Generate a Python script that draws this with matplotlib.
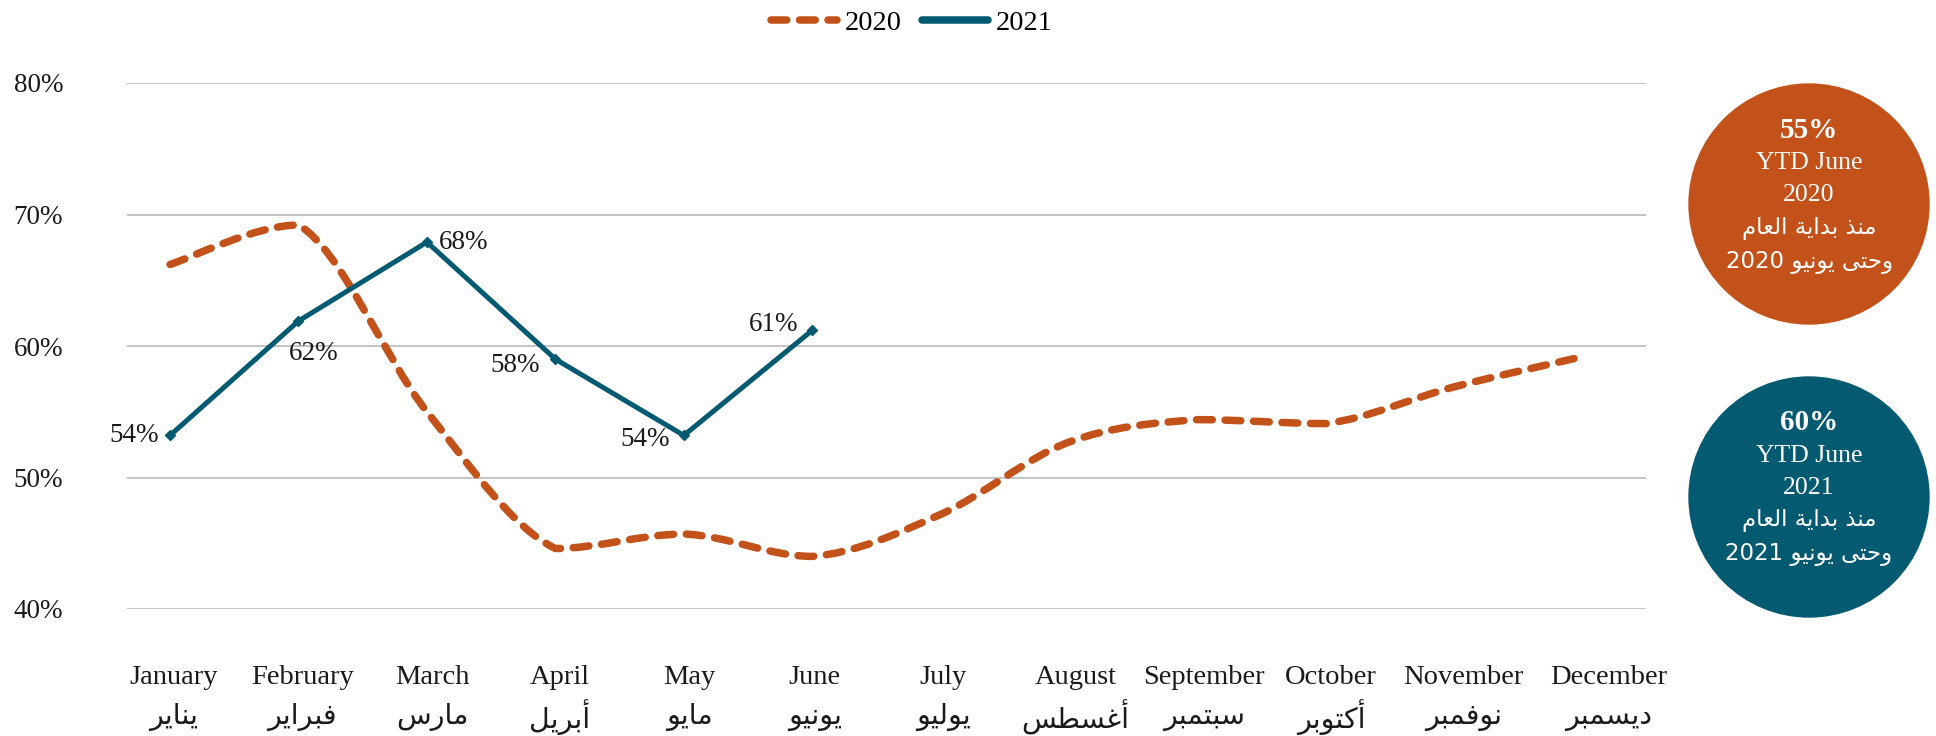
import numpy as np
import matplotlib
matplotlib.use('Agg')
import matplotlib.pyplot as plt
from matplotlib.path import Path
from matplotlib.patches import PathPatch, Circle
from matplotlib.lines import Line2D

months_en = ['January', 'February', 'March', 'April', 'May', 'June', 'July',
             'August', 'September', 'October', 'November', 'December']
months_ar = ['يناير', 'فبراير', 'مارس', 'أبريل', 'مايو', 'يونيو', 'يوليو',
             'أغسطس', 'سبتمبر', 'أكتوبر', 'نوفمبر', 'ديسمبر']
rate_2020 = [66.2, 69.2, 55.0, 44.6, 45.7, 44.0, 47.2, 52.7, 54.4, 54.1, 56.9, 59.2]
rate_2021 = [53.2, 61.9, 67.9, 59.0, 53.2, 61.2]
labels_2021 = ['54%', '62%', '68%', '58%', '54%', '61%']
yticks = [40, 50, 60, 70, 80]
ytd = [('55%', '2020'), ('60%', '2021')]

orange = '#C25219'
blue = '#045A70'
ink = '#1a1a1a'
serif = ['Liberation Serif', 'DejaVu Sans']
sans = ['DejaVu Sans']

plt.rcParams['font.family'] = serif

# --- tiny arabic shaper (presentation forms + visual order) ---
FORMS = {
    'ا': ('\uFE8D', '\uFE8E', None, None), 'أ': ('\uFE83', '\uFE84', None, None),
    'ب': ('\uFE8F', '\uFE90', '\uFE91', '\uFE92'), 'ة': ('\uFE93', '\uFE94', None, None),
    'ت': ('\uFE95', '\uFE96', '\uFE97', '\uFE98'), 'ح': ('\uFEA1', '\uFEA2', '\uFEA3', '\uFEA4'),
    'د': ('\uFEA9', '\uFEAA', None, None), 'ذ': ('\uFEAB', '\uFEAC', None, None),
    'ر': ('\uFEAD', '\uFEAE', None, None), 'س': ('\uFEB1', '\uFEB2', '\uFEB3', '\uFEB4'),
    'ط': ('\uFEC1', '\uFEC2', '\uFEC3', '\uFEC4'), 'ع': ('\uFEC9', '\uFECA', '\uFECB', '\uFECC'),
    'غ': ('\uFECD', '\uFECE', '\uFECF', '\uFED0'), 'ف': ('\uFED1', '\uFED2', '\uFED3', '\uFED4'),
    'ك': ('\uFED9', '\uFEDA', '\uFEDB', '\uFEDC'), 'ل': ('\uFEDD', '\uFEDE', '\uFEDF', '\uFEE0'),
    'م': ('\uFEE1', '\uFEE2', '\uFEE3', '\uFEE4'), 'ن': ('\uFEE5', '\uFEE6', '\uFEE7', '\uFEE8'),
    'و': ('\uFEED', '\uFEEE', None, None), 'ى': ('\uFEEF', '\uFEF0', None, None),
    'ي': ('\uFEF1', '\uFEF2', '\uFEF3', '\uFEF4'),
}


def shape_word(w):
    out = []
    for i, c in enumerate(w):
        if c not in FORMS:
            out.append(c)
            continue
        prev = i > 0 and w[i - 1] in FORMS and FORMS[w[i - 1]][2] is not None
        nxt = i < len(w) - 1 and FORMS[c][2] is not None and w[i + 1] in FORMS
        idx = 3 if (prev and nxt) else 1 if prev else 2 if nxt else 0
        out.append(FORMS[c][idx])
    return ''.join(out)


def ar(text):
    words = []
    for w in text.split(' '):
        if any(ch in FORMS for ch in w):
            words.append(shape_word(w)[::-1])
        else:
            words.append(w)
    return ' '.join(words[::-1])


def smooth(xs, ys, t=1 / 6):
    # bezier through the points, control handles kept inside each segment's y range
    p = np.column_stack([xs, ys]).astype(float)
    n = len(p)
    verts, codes = [p[0]], [Path.MOVETO]
    for i in range(n - 1):
        p0 = p[i - 1] if i > 0 else p[i]
        p3 = p[i + 2] if i + 2 < n else p[i + 1]
        lo, hi = sorted([p[i, 1], p[i + 1, 1]])
        c1 = p[i] + (p[i + 1] - p0) * t
        c2 = p[i + 1] - (p3 - p[i]) * t
        c1[1] = np.clip(c1[1], lo, hi)
        c2[1] = np.clip(c2[1], lo, hi)
        verts += [c1, c2, p[i + 1]]
        codes += [Path.CURVE4] * 3
    return Path(verts, codes)


fig = plt.figure(figsize=(19.36, 7.36), dpi=100)
ax = fig.add_axes([127 / 1936, 1 - 609 / 736, 1519 / 1936, 526 / 736])
x = np.arange(len(months_en))
ax.set_xlim(-0.335, 11.49)
ax.set_ylim(40, 80)

dash = (0, (2.1, 1.7))
ax.add_patch(PathPatch(smooth(x, rate_2020), fill=False, edgecolor=orange, lw=5.4,
                       linestyle=dash, capstyle='round', joinstyle='round', zorder=3))
x21 = x[:len(rate_2021)]
ax.plot(x21, rate_2021, color=blue, lw=3.6, marker='D', markersize=5,
        solid_joinstyle='miter', zorder=4)

offsets = [(-11, 0, 'right'), (15, -32, 'center'), (12, 0, 'left'),
           (-16, -6, 'right'), (-14, -4, 'right'), (-14, 6, 'right')]
for xi, yi, lab, (dx, dy, ha) in zip(x21, rate_2021, labels_2021, offsets):
    ax.annotate(lab, (xi, yi), xytext=(dx, dy), textcoords='offset pixels',
                ha=ha, va='center', fontsize=19.5, color=ink, zorder=5)

ax.set_yticks(yticks)
ax.set_yticklabels([f'{v}%' for v in yticks], fontsize=19.5, color=ink)
ax.set_xticks([])
ax.tick_params(axis='y', length=0, pad=46)
ax.grid(axis='y', color='#BFBFBF', lw=1.3)
ax.set_axisbelow(True)
for s in ax.spines.values():
    s.set_visible(False)

# month labels sit a touch right of the points, December most of all
label_nudge = [0.03, 0.03, 0.04, 0.03, 0.04, 0.02, 0.02, 0.05, 0.05, 0.04, 0.07, 0.2]
trans = ax.get_xaxis_transform()
for xi, nd, en, a in zip(x, label_nudge, months_en, months_ar):
    ax.text(xi + nd, -0.131, en, transform=trans, ha='center', va='center',
            fontsize=20.5, color=ink)
    ax.text(xi + nd, -0.205, ar(a), transform=trans, ha='center', va='center',
            fontsize=20.5, color=ink, family=sans)

handles = [Line2D([], [], color=orange, lw=5.4, linestyle=dash, dash_capstyle='round'),
           Line2D([], [], color=blue, lw=5.4, solid_capstyle='round')]
fig.legend(handles, ['2020', '2021'], loc='center', bbox_to_anchor=(912 / 1936, 1 - 23 / 736),
           ncol=2, frameon=False, fontsize=20.5, handlelength=2.3, columnspacing=0.7,
           handletextpad=0.3)

# YTD circles
ov = fig.add_axes([0, 0, 1, 1])
ov.set_xlim(0, 1936)
ov.set_ylim(736, 0)
ov.axis('off')
for (pct, yr), col, cy in zip(ytd, [orange, blue], [204, 497]):
    ov.add_patch(Circle((1809, cy), 120, color=col))
    ov.text(1809, cy - 74, pct, ha='center', va='center', fontsize=21, fontweight='bold', color='white')
    ov.text(1809, cy - 41, 'YTD June', ha='center', va='center', fontsize=18.5, color='white')
    ov.text(1809, cy - 9, yr, ha='center', va='center', fontsize=18.5, color='white')
    ov.text(1809, cy + 24, ar('منذ بداية العام'), ha='center', va='center', fontsize=16.5,
            color='white', family=sans)
    ov.text(1809, cy + 58, ar('وحتى يونيو ' + yr), ha='center', va='center', fontsize=16.5,
            color='white', family=sans)

fig.savefig('out.png', dpi=100)
